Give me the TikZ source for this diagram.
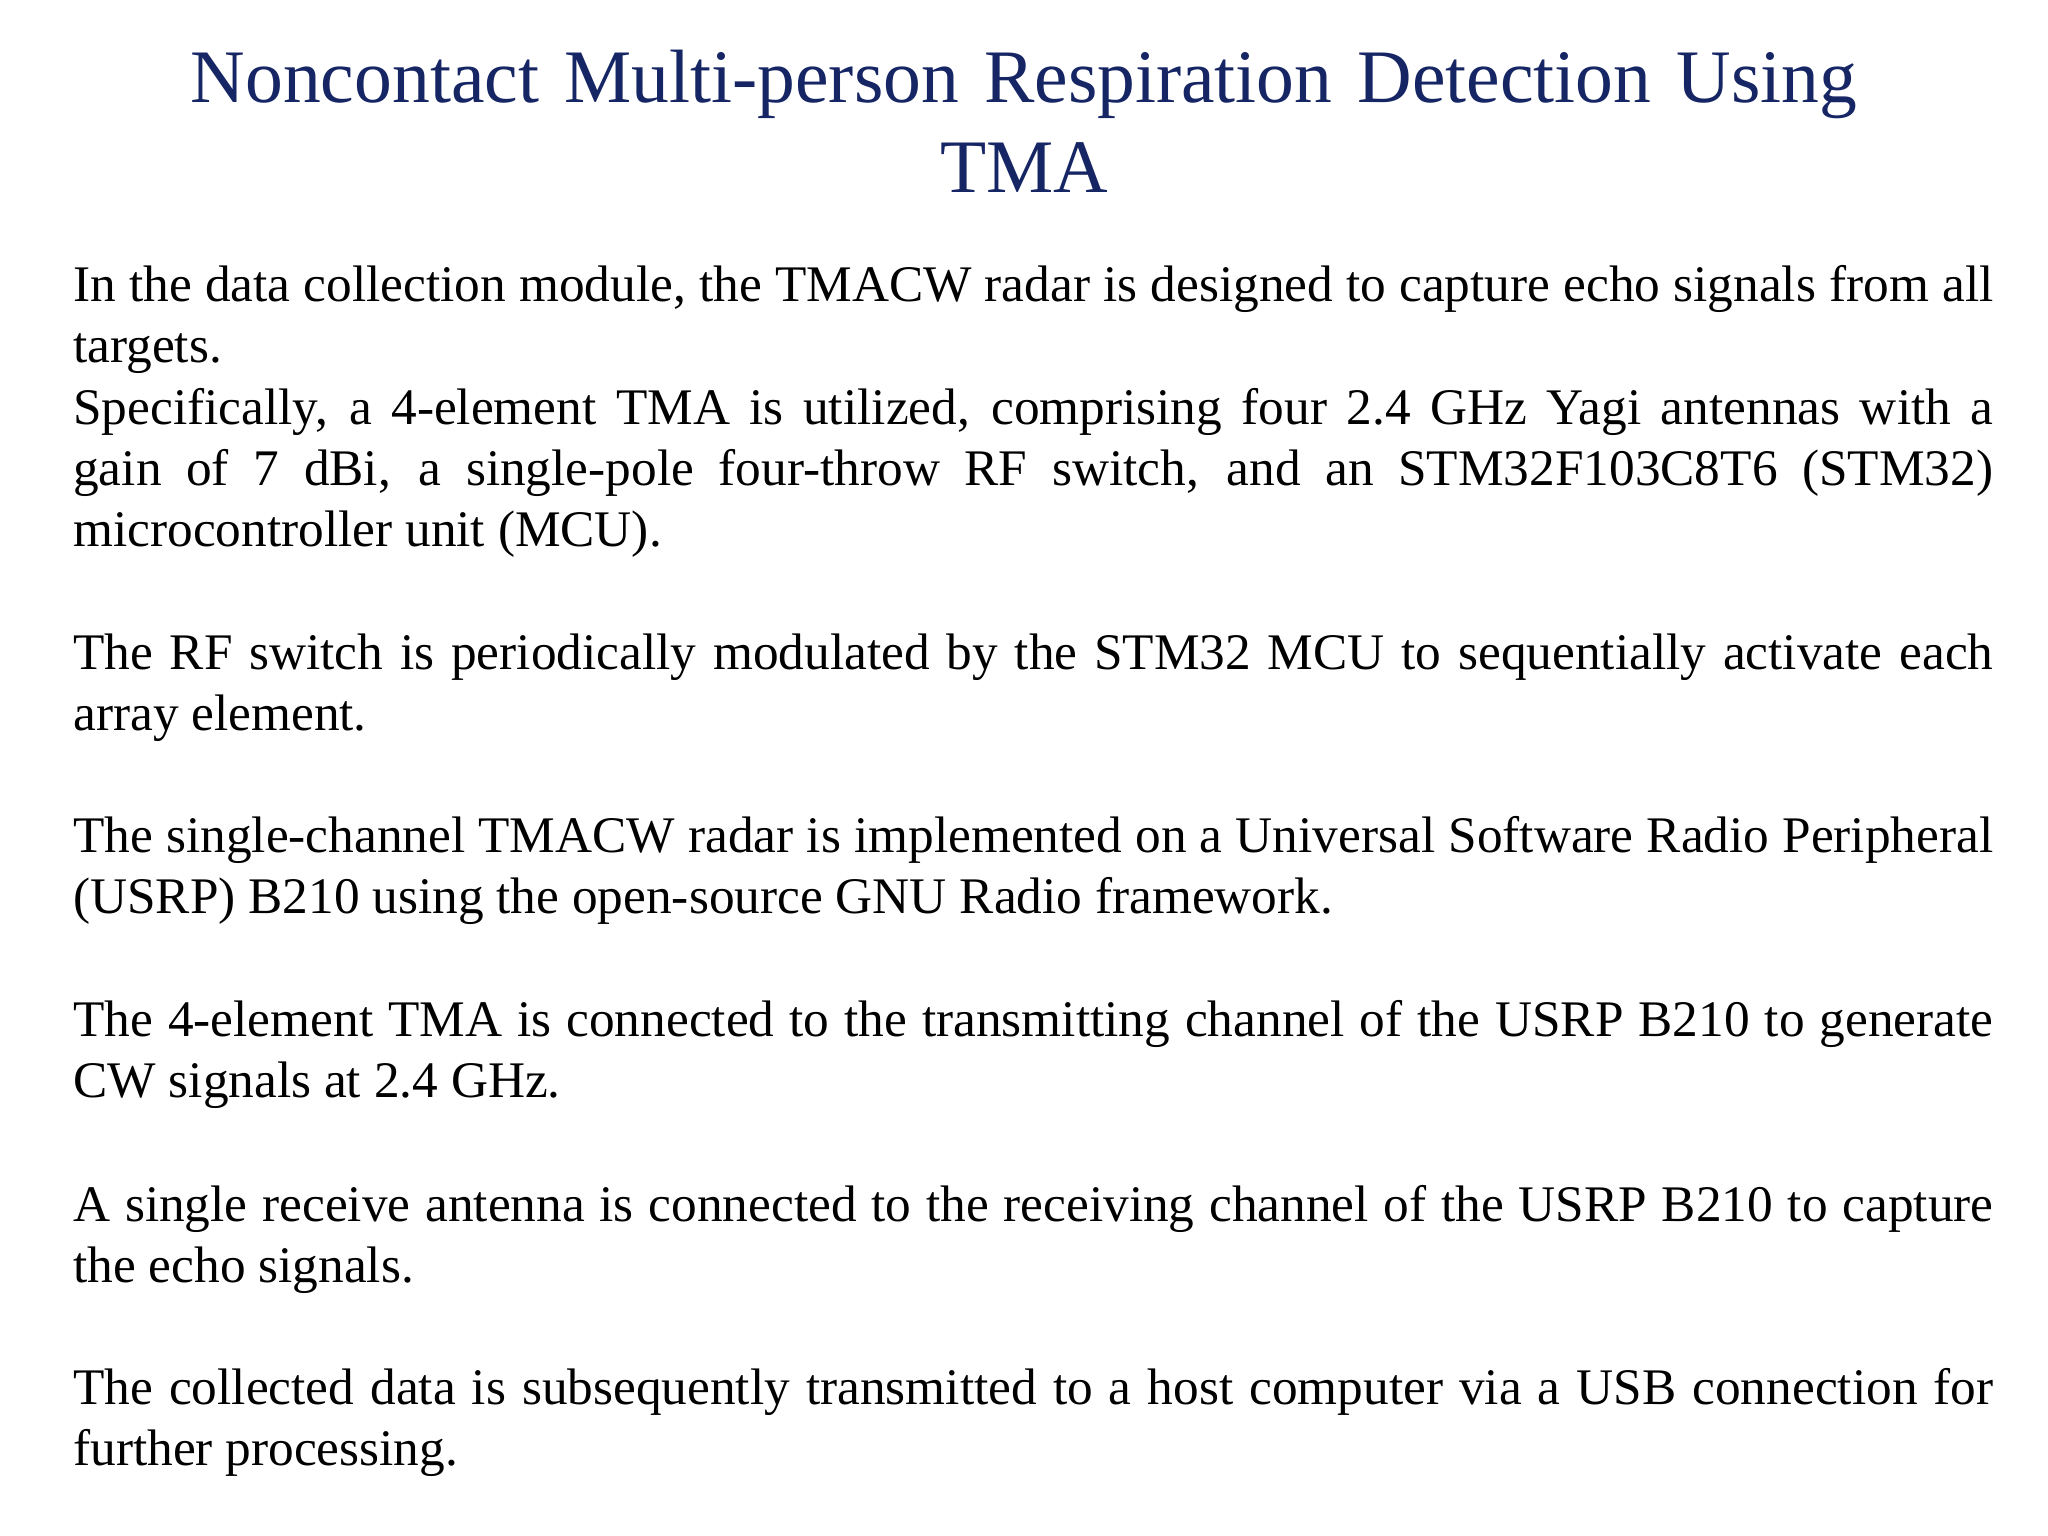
\documentclass[tikz,border=0pt]{standalone}
\usepackage{fontspec}
\setmainfont{Liberation Serif}
\definecolor{titleblue}{RGB}{22,38,100}
\begin{document}
\begin{tikzpicture}[x=1cm,y=1cm,
  para/.style={anchor=north west,inner sep=0pt,text width=19.2cm,align=justify,
    font=\fontsize{14.6pt}{17.4pt}\selectfont},
  ttl/.style={anchor=north,inner sep=0pt,text width=19.5cm,align=center,text=titleblue,
    font=\fontsize{21.5pt}{25.8pt}\selectfont}]
\useasboundingbox (0,0) rectangle (20.48,-15.36);
\node[ttl] (title) at (10.24,-0.49) {Noncontact Multi-person Respiration Detection Using\\TMA};
\node[para] (p1) at (0.726,-2.65) {In the data collection module, the TMACW radar is designed to capture echo signals from all targets.\par
Specifically, a 4-element TMA is utilized, comprising four 2.4 GHz Yagi antennas with a\linebreak gain of 7 dBi, a single-pole four-throw RF switch, and an STM32F103C8T6 (STM32)\linebreak microcontroller unit (MCU).};
\node[para] (p2) at (0.726,-6.335) {The RF switch is periodically modulated by the STM32 MCU to sequentially activate each array element.};
\node[para] (p3) at (0.726,-8.16) {The single-channel TMACW radar is implemented on a Universal Software Radio Peripheral (USRP) B210 using the open-source GNU Radio framework.};
\node[para] (p4) at (0.726,-9.995) {The 4-element TMA is connected to the transmitting channel of the USRP B210 to generate CW signals at 2.4 GHz.};
\node[para] (p5) at (0.726,-11.85) {A single receive antenna is connected to the receiving channel of the USRP B210 to capture the echo signals.};
\node[para] (p6) at (0.726,-13.675) {The collected data is subsequently transmitted to a host computer via a USB connection for further processing.};
\end{tikzpicture}
\end{document}
